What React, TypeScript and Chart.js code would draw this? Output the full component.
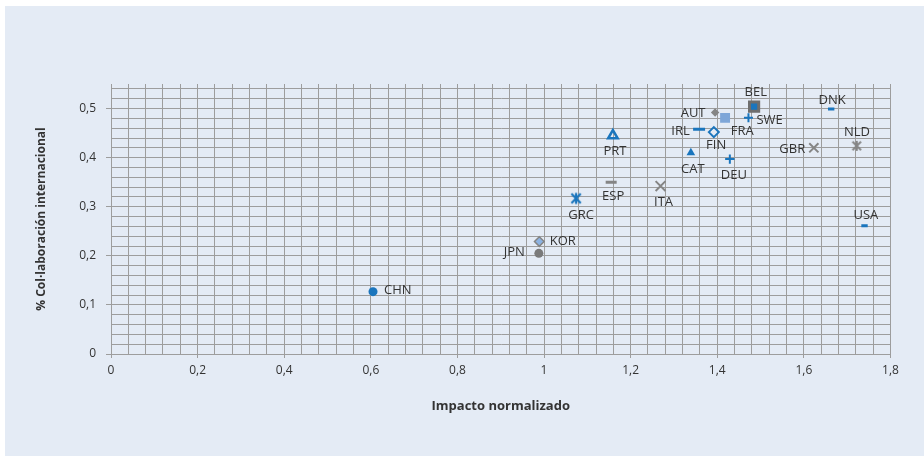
import React, { useEffect, useRef } from "react";
import { Chart, registerables } from "chart.js";
Chart.register(...registerables);

// ---- data ----
const countries = ["CHN", "JPN", "KOR", "GRC", "ESP", "PRT", "ITA", "CAT", "IRL", "FIN", "AUT", "FRA", "DEU", "SWE", "BEL", "DNK", "GBR", "NLD", "USA"];
const impact = [0.605, 0.988, 0.989, 1.074, 1.155, 1.159, 1.269, 1.339, 1.358, 1.392, 1.395, 1.418, 1.429, 1.472, 1.485, 1.663, 1.623, 1.722, 1.740];
const collab = [0.127, 0.205, 0.229, 0.317, 0.350, 0.445, 0.342, 0.410, 0.458, 0.452, 0.492, 0.481, 0.397, 0.481, 0.504, 0.499, 0.420, 0.424, 0.261];

const xTitle = "Impacto normalizado";
const yTitle = "% Col·laboración internacional";

// ---- styles ----
const BLUE = "#1a75bd";
const GREY = "#858585";
const DGREY = "#6e6e6e";
const LIGHT = "#7ea6d8";
const LIGHT2 = "#8db3e2";
const GRID = "#9d9d9d";
const TEXT = "#333333";
const FONT = '"Open Sans", sans-serif';

// label placement: [align, dx, dy(cap centre)]
const labelPlace: [CanvasTextAlign, number, number][] = [
  ["left", 11, -2.5],
  ["right", -14, -1.5],
  ["left", 10.5, -1],
  ["center", 5, 16],
  ["center", 2, 13.5],
  ["center", 2, 15.3],
  ["center", 3, 15],
  ["center", 2, 15.6],
  ["right", -9.3, 1],
  ["center", 2.3, 12.7],
  ["right", -9.6, -0.4],
  ["left", 5.7, 12.3],
  ["center", 4, 15],
  ["left", 8, 1.6],
  ["center", 1.7, -15],
  ["center", 1, -9.7],
  ["right", -8.7, 0.3],
  ["center", 0.3, -14.3],
  ["center", 1.3, -11.7],
];

function makeAsterisk(color: string, size: number, lw: number) {
  const c = document.createElement("canvas");
  const s = Math.ceil(size + lw + 2);
  c.width = s;
  c.height = s;
  const g = c.getContext("2d")!;
  const m = s / 2;
  const h = size / 2;
  g.strokeStyle = color;
  g.lineWidth = lw;
  g.beginPath();
  g.moveTo(m - h * 0.85, m - h * 0.85);
  g.lineTo(m + h * 0.85, m + h * 0.85);
  g.moveTo(m + h * 0.85, m - h * 0.85);
  g.lineTo(m - h * 0.85, m + h * 0.85);
  g.moveTo(m, m - h);
  g.lineTo(m, m + h);
  g.stroke();
  return c;
}

type Marker = { style: any; r: number; fill: string; stroke: string; bw: number };

function buildMarkers(): Marker[] {
  const T = "rgba(0,0,0,0)";
  return [
    { style: "circle", r: 4.5, fill: BLUE, stroke: BLUE, bw: 0 },
    { style: "circle", r: 4.5, fill: "#7a7a7a", stroke: "#7a7a7a", bw: 0 },
    { style: "rectRot", r: 4.8, fill: LIGHT2, stroke: GREY, bw: 1.5 },
    { style: makeAsterisk(BLUE, 11, 2.2), r: 6, fill: BLUE, stroke: BLUE, bw: 0 },
    { style: "line", r: 5.5, fill: GREY, stroke: GREY, bw: 3 },
    { style: "triangle", r: 5.5, fill: T, stroke: BLUE, bw: 2.5 },
    { style: "crossRot", r: 7, fill: GREY, stroke: GREY, bw: 2 },
    { style: "triangle", r: 5, fill: BLUE, stroke: BLUE, bw: 0 },
    { style: "line", r: 6, fill: BLUE, stroke: BLUE, bw: 3 },
    { style: "rectRot", r: 5, fill: T, stroke: BLUE, bw: 2 },
    { style: "rectRot", r: 4.2, fill: GREY, stroke: GREY, bw: 0 },
    { style: "rect", r: 7, fill: LIGHT, stroke: LIGHT, bw: 0 },
    { style: "cross", r: 4.7, fill: BLUE, stroke: BLUE, bw: 2 },
    { style: "cross", r: 4.5, fill: BLUE, stroke: BLUE, bw: 2 },
    { style: "rect", r: 6.5, fill: BLUE, stroke: DGREY, bw: 3 },
    { style: "line", r: 3.2, fill: BLUE, stroke: BLUE, bw: 3 },
    { style: "crossRot", r: 6.5, fill: GREY, stroke: GREY, bw: 2 },
    { style: makeAsterisk(GREY, 10, 2), r: 6, fill: GREY, stroke: GREY, bw: 0 },
    { style: "line", r: 3.2, fill: BLUE, stroke: BLUE, bw: 3 },
  ];
}

const isMultiple = (v: number, step: number) => Math.abs(v / step - Math.round(v / step)) < 1e-6;
const fmt = (v: number) => String(Math.round(v * 10) / 10).replace(".", ",");

const labelPlugin = {
  id: "pointLabels",
  afterDatasetsDraw(chart: any) {
    const ctx = chart.ctx as CanvasRenderingContext2D;
    ctx.save();
    ctx.font = `13px ${FONT}`;
    ctx.fillStyle = TEXT;
    ctx.textBaseline = "alphabetic";
    chart.data.datasets.forEach((ds: any, i: number) => {
      const el = chart.getDatasetMeta(i).data[0];
      if (!el) return;
      const [align, dx, dy] = labelPlace[i];
      ctx.textAlign = align;
      ctx.fillText(ds.label, el.x + dx, el.y + dy + 4.6);
    });
    ctx.restore();
  },
};

export default function App() {
  const ref = useRef<HTMLCanvasElement>(null);
  useEffect(() => {
    const markers = buildMarkers();
    const datasets = countries.map((c, i) => ({
      label: c,
      data: [{ x: impact[i], y: collab[i] }],
      pointStyle: markers[i].style,
      pointRadius: markers[i].r,
      pointHoverRadius: markers[i].r,
      backgroundColor: markers[i].fill,
      borderColor: markers[i].stroke,
      borderWidth: markers[i].bw,
      pointBorderWidth: markers[i].bw,
      showLine: false,
    }));
    const chart = new Chart(ref.current!, {
      type: "scatter",
      data: { datasets },
      options: {
        responsive: false,
        animation: false,
        devicePixelRatio: 1,
        events: [],
        layout: { padding: { left: 0, top: 84, right: 33.5, bottom: 0 } },
        plugins: { legend: { display: false }, tooltip: { enabled: false } },
        scales: {
          x: {
            type: "linear",
            min: 0,
            max: 1.8,
            afterFit: (s: any) => {
              s.height = 102;
            },
            ticks: {
              stepSize: 0.04,
              autoSkip: false,
              maxRotation: 0,
              minRotation: 0,
              padding: 5,
              color: TEXT,
              font: { family: FONT, size: 12 },
              callback: (v: any) => (isMultiple(Number(v), 0.2) ? fmt(Number(v)) : ""),
            },
            grid: {
              color: GRID,
              lineWidth: 1,
              tickLength: 4,
              tickColor: (c: any) => (c.tick && isMultiple(c.tick.value, 0.2) ? GRID : "rgba(0,0,0,0)"),
            },
            border: { color: GRID },
            title: {
              display: true,
              text: xTitle,
              color: TEXT,
              font: { family: FONT, size: 13, weight: "bold" },
              padding: { top: 0, bottom: 42 },
            },
          },
          y: {
            type: "linear",
            min: 0,
            max: 0.55,
            afterFit: (s: any) => {
              s.width = 111;
            },
            ticks: {
              stepSize: 0.02,
              includeBounds: false,
              autoSkip: false,
              padding: 10,
              color: TEXT,
              font: { family: FONT, size: 12 },
              callback: (v: any) => (isMultiple(Number(v), 0.1) ? fmt(Number(v)) : ""),
            },
            grid: {
              color: GRID,
              lineWidth: 1,
              tickLength: 5,
              tickColor: (c: any) => (c.tick && isMultiple(c.tick.value, 0.1) ? GRID : "rgba(0,0,0,0)"),
            },
            border: { color: GRID },
            title: {
              display: true,
              text: yTitle,
              color: TEXT,
              font: { family: FONT, size: 12, weight: "bold" },
              padding: { top: 34, bottom: 0 },
            },
          },
        },
      },
      plugins: [labelPlugin],
    } as any);
    return () => chart.destroy();
  }, []);
  return (
    <div style={{ position: "fixed", left: 0, top: 0, width: 924, height: 456, background: "#ffffff" }}>
      <div style={{ position: "absolute", left: 5, top: 6, right: 0, bottom: 0, background: "#e4ebf5" }} />
      <canvas ref={ref} width={924} height={456} style={{ position: "absolute", left: 0, top: 0, width: 924, height: 456 }} />
    </div>
  );
}
